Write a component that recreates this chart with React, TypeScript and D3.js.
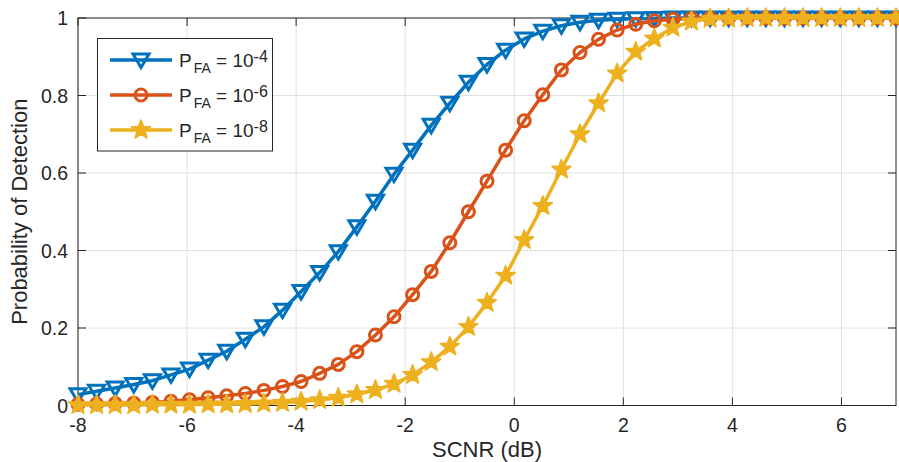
import React from "react";
import * as d3 from "d3";

// SCNR sample grid (dB)
const scnrDb = [
  -8, -7.659, -7.318, -6.977, -6.636, -6.295, -5.955, -5.614, -5.273, -4.932,
  -4.591, -4.25, -3.909, -3.568, -3.227, -2.886, -2.545, -2.205, -1.864, -1.523,
  -1.182, -0.841, -0.5, -0.159, 0.182, 0.523, 0.864, 1.205, 1.545, 1.886,
  2.227, 2.568, 2.909, 3.25, 3.591, 3.932, 4.273, 4.614, 4.955, 5.295,
  5.636, 5.977, 6.318, 6.659, 7,
];

// Probability of detection, PFA = 1e-4
const pdFa4 = [
  0.028, 0.037, 0.045, 0.054, 0.064, 0.079, 0.094, 0.117, 0.14, 0.171,
  0.203, 0.246, 0.294, 0.343, 0.397, 0.461, 0.527, 0.597, 0.659, 0.723,
  0.78, 0.834, 0.88, 0.917, 0.946, 0.966, 0.98, 0.989, 0.994, 0.997,
  0.998, 0.999, 1, 1, 1, 1, 1, 1, 1, 1,
  1, 1, 1, 1, 1,
];

// Probability of detection, PFA = 1e-6
const pdFa6 = [
  0.003, 0.004, 0.005, 0.006, 0.008, 0.011, 0.015, 0.02, 0.025, 0.031,
  0.039, 0.049, 0.062, 0.083, 0.106, 0.139, 0.182, 0.229, 0.286, 0.346,
  0.42, 0.5, 0.579, 0.659, 0.735, 0.802, 0.866, 0.911, 0.945, 0.969,
  0.984, 0.993, 0.997, 0.999, 1, 1, 1, 1, 1, 1,
  1, 1, 1, 1, 1,
];

// Probability of detection, PFA = 1e-8
const pdFa8 = [
  0.001, 0.001, 0.001, 0.001, 0.002, 0.002, 0.002, 0.003, 0.003, 0.004,
  0.005, 0.007, 0.01, 0.014, 0.02, 0.029, 0.04, 0.056, 0.079, 0.112,
  0.152, 0.203, 0.265, 0.335, 0.427, 0.515, 0.609, 0.7, 0.78, 0.857,
  0.913, 0.947, 0.975, 0.991, 0.998, 0.999, 1, 1, 1, 1,
  1, 1, 1, 1, 1,
];

const xTicks = [-8, -6, -4, -2, 0, 2, 4, 6];
const yTicks = [0, 0.2, 0.4, 0.6, 0.8, 1];
const legendExponents = ["-4", "-6", "-8"];

const FONT = "'Liberation Sans', Arial, Helvetica, sans-serif";
const AXIS = "#262626";
const GRID = "#e0e0e0";

const W = 899;
const H = 462;
const plot = { left: 78, right: 896, top: 18, bottom: 405.5 };

const x = d3.scaleLinear().domain([-8, 7]).range([plot.left, plot.right]);
const y = d3.scaleLinear().domain([0, 1]).range([plot.bottom, plot.top]);

const starPath = (() => {
  const R = 10;
  const r = R * 0.42;
  const pts: string[] = [];
  for (let k = 0; k < 10; k++) {
    const rad = k % 2 === 0 ? R : r;
    const a = -Math.PI / 2 + (k * Math.PI) / 5;
    pts.push(`${(rad * Math.cos(a)).toFixed(2)},${(rad * Math.sin(a)).toFixed(2)}`);
  }
  return "M" + pts.join("L") + "Z";
})();

type Kind = "tri" | "circle" | "star";

function Marker({ kind, color }: { kind: Kind; color: string }) {
  if (kind === "tri")
    return <path d="M-8,-6L8,-6L0,7.5Z" fill="none" stroke={color} strokeWidth={3} strokeLinejoin="miter" />;
  if (kind === "circle") return <circle r={6} fill="none" stroke={color} strokeWidth={3} />;
  return <path d={starPath} fill={color} stroke={color} strokeWidth={1.6} strokeLinejoin="round" />;
}

const series = [
  { name: "fa4", values: pdFa4, color: "#0072BD", kind: "tri" as Kind },
  { name: "fa6", values: pdFa6, color: "#D95319", kind: "circle" as Kind },
  { name: "fa8", values: pdFa8, color: "#EDB120", kind: "star" as Kind },
];

export default function App() {
  const line = d3
    .line<number>()
    .x((_, i) => x(scnrDb[i]))
    .y((v) => y(v));

  const tickLen = 8;

  return (
    <div style={{ position: "fixed", left: 0, top: 0 }}>
      <svg width={W} height={H} style={{ display: "block", background: "#fff" }} fontFamily={FONT}>
        <rect x={0} y={0} width={W} height={H} fill="#fff" />
        {/* grid */}
        {xTicks.map((t) => (
          <line key={"gx" + t} x1={x(t)} x2={x(t)} y1={plot.top} y2={plot.bottom} stroke={GRID} strokeWidth={1} />
        ))}
        {yTicks.map((t) => (
          <line key={"gy" + t} x1={plot.left} x2={plot.right} y1={y(t)} y2={y(t)} stroke={GRID} strokeWidth={1} />
        ))}
        {/* axes box */}
        <rect
          x={plot.left}
          y={plot.top}
          width={plot.right - plot.left}
          height={plot.bottom - plot.top}
          fill="none"
          stroke={AXIS}
          strokeWidth={1}
        />
        {/* ticks */}
        {xTicks.map((t) => (
          <g key={"tx" + t} stroke={AXIS} strokeWidth={1}>
            <line x1={x(t)} x2={x(t)} y1={plot.bottom} y2={plot.bottom - tickLen} />
            <line x1={x(t)} x2={x(t)} y1={plot.top} y2={plot.top + tickLen} />
          </g>
        ))}
        {yTicks.map((t) => (
          <g key={"ty" + t} stroke={AXIS} strokeWidth={1}>
            <line x1={plot.left} x2={plot.left + tickLen} y1={y(t)} y2={y(t)} />
            <line x1={plot.right} x2={plot.right - tickLen} y1={y(t)} y2={y(t)} />
          </g>
        ))}
        {/* tick labels */}
        {xTicks.map((t) => (
          <text key={"lx" + t} x={x(t)} y={432} textAnchor="middle" fontSize={19.5} fill={AXIS}>
            {String(t)}
          </text>
        ))}
        {yTicks.map((t) => (
          <text key={"ly" + t} x={68} y={y(t) + 7} textAnchor="end" fontSize={19.5} fill={AXIS}>
            {String(t)}
          </text>
        ))}
        {/* axis labels */}
        <text x={(plot.left + plot.right) / 2} y={457} textAnchor="middle" fontSize={22} fill={AXIS}>
          SCNR (dB)
        </text>
        <text
          transform={`translate(27,${(plot.top + plot.bottom) / 2}) rotate(-90)`}
          textAnchor="middle"
          fontSize={22}
          fill={AXIS}
        >
          Probability of Detection
        </text>
        {/* series */}
        {series.map((s) => (
          <g key={s.name}>
            <path d={line(s.values) || ""} fill="none" stroke={s.color} strokeWidth={3.5} strokeLinejoin="round" />
            {s.values.map((v, i) => (
              <g key={i} transform={`translate(${x(scnrDb[i])},${y(v)})`}>
                <Marker kind={s.kind} color={s.color} />
              </g>
            ))}
          </g>
        ))}
        {/* legend */}
        <g>
          <rect x={97.5} y={38.5} width={175} height={112.5} fill="#fff" stroke={AXIS} strokeWidth={1} />
          {series.map((s, k) => {
            const cy = 60 + k * 35;
            return (
              <g key={"lg" + s.name}>
                <line x1={110} x2={172} y1={cy} y2={cy} stroke={s.color} strokeWidth={3.5} />
                <g transform={`translate(141,${cy})`}>
                  <Marker kind={s.kind} color={s.color} />
                </g>
                <text x={179} y={cy + 6.5} fontSize={19} fill={AXIS}>
                  <tspan>P</tspan>
                  <tspan dx={2} dy={6.5} fontSize={14}>FA</tspan>
                  <tspan dy={-6.5} fontSize={19}>{" = 10"}</tspan>
                  <tspan dy={-5} fontSize={16}>{legendExponents[k]}</tspan>
                </text>
              </g>
            );
          })}
        </g>
      </svg>
    </div>
  );
}
